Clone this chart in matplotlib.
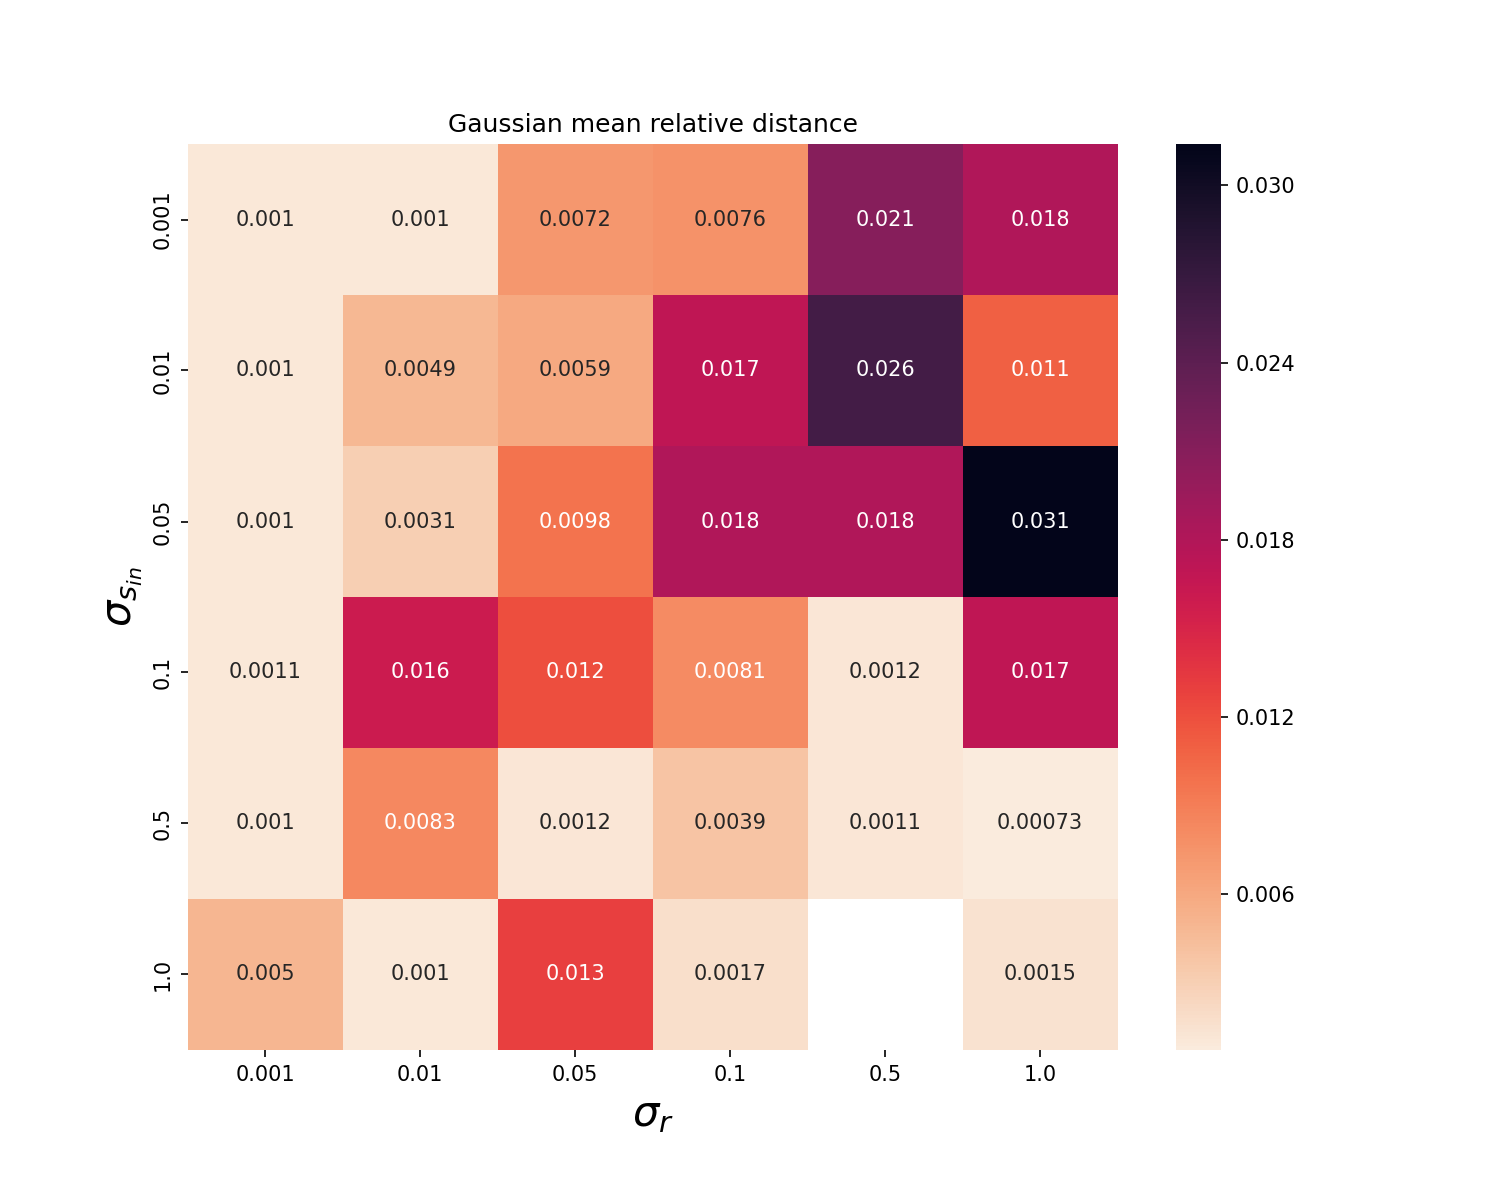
import numpy as np
import matplotlib
matplotlib.use("Agg")
import matplotlib.pyplot as plt
import seaborn as sns

# sigma_s_in (rows) and sigma_r (columns)
sigma_s_in = ["0.001", "0.01", "0.05", "0.1", "0.5", "1.0"]
sigma_r = ["0.001", "0.01", "0.05", "0.1", "0.5", "1.0"]

row_0001 = [0.001, 0.001, 0.0072, 0.0076, 0.021, 0.018]
row_001 = [0.001, 0.0049, 0.0059, 0.017, 0.026, 0.011]
row_005 = [0.001, 0.0031, 0.0098, 0.018, 0.018, 0.0314]
row_01 = [0.00106, 0.016, 0.012, 0.0081, 0.0012, 0.017]
row_05 = [0.001, 0.0083, 0.0012, 0.0039, 0.0011, 0.00073]
row_10 = [0.005, 0.001, 0.013, 0.0017, np.nan, 0.0015]

dist = np.array([row_0001, row_001, row_005, row_01, row_05, row_10])

cbar_ticks = [0.006, 0.012, 0.018, 0.024, 0.030]

fig, ax = plt.subplots(figsize=(10, 8), dpi=150)
fig.subplots_adjust(bottom=0.125)
sns.heatmap(dist, annot=True, fmt=".2g", cmap="rocket_r",
            xticklabels=sigma_r, yticklabels=sigma_s_in,
            cbar_kws={"ticks": cbar_ticks}, ax=ax)
ax.set_yticklabels(sigma_s_in, rotation=90, va="center")
ax.set_title("Gaussian mean relative distance")
ax.set_xlabel(r"$\sigma_r$", fontsize=20)
ax.set_ylabel(r"$\sigma_{s_{in}}$", fontsize=20)

plt.savefig("out.png")
